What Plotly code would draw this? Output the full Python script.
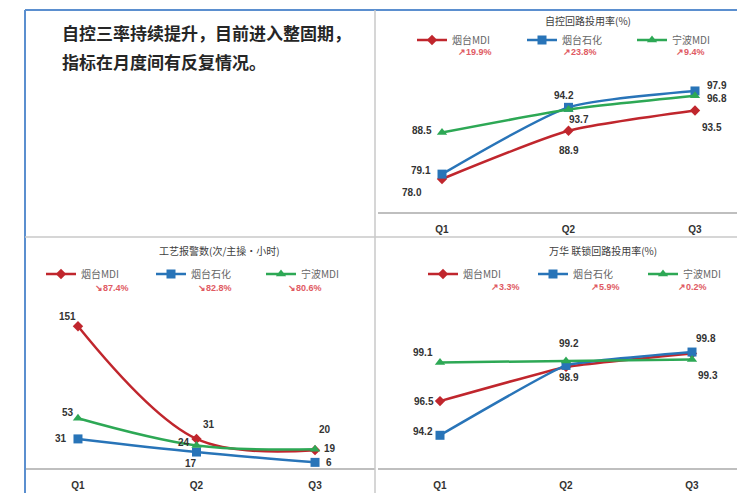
import plotly.graph_objects as go

W, H = 737, 493

quarters = ["Q1", "Q2", "Q3"]
series_names = ["烟台MDI", "烟台石化", "宁波MDI"]

# 自控回路投用率(%)
auto_ytmdi = [78.0, 88.9, 93.5]
auto_ytsh = [79.1, 94.2, 97.9]
auto_nbmdi = [88.5, 93.7, 96.8]
auto_change = ["↗19.9%", "↗23.8%", "↗9.4%"]

# 工艺报警数(次/主操•小时)
alarm_ytmdi = [151, 31, 19]
alarm_ytsh = [31, 17, 6]
alarm_nbmdi = [53, 24, 20]
alarm_change = ["↘87.4%", "↘82.8%", "↘80.6%"]

# 万华 联锁回路投用率(%)
lock_ytmdi = [96.5, 98.8, 99.7]
lock_ytsh = [94.2, 98.9, 99.8]
lock_nbmdi = [99.1, 99.2, 99.3]
lock_change = ["↗3.3%", "↗5.9%", "↗0.2%"]

titles = ["自控回路投用率(%)", "工艺报警数(次/主操•小时)", "万华 联锁回路投用率(%)"]
note_lines = ["自控三率持续提升，目前进入整固期，", "指标在月度间有反复情况。"]

COLORS = ["#C0262D", "#2874B8", "#2DA855"]
SYMBOLS = ["diamond", "square", "triangle-up"]
MSIZE = [8, 9, 9]
CJK = "Noto Sans CJK SC"
LBL = "Liberation Sans"


def px(x):
    return x / W


def py(y):
    return 1 - y / H


fig = go.Figure()

panels = [
    dict(name="1", xd=(378, 737), yd=(60, 212), xr=(-0.506, 2.332), yr=(70.54, 104.9),
         data=[auto_ytmdi, auto_ytsh, auto_nbmdi], legend="legend",
         fmt="{:.1f}", smooth=0.6,
         offs=[[(-30, 14), (0, 20), (17, 17)],
               [(-21, -4), (-5, -12), (22, -5)],
               [(-20, -2), (10, 10), (22, 3)]],
         show=[[1, 1, 1], [1, 1, 1], [1, 1, 1]]),
    dict(name="2", xd=(25, 375), yd=(300, 468), xr=(-0.447, 2.506), yr=(0, 179),
         data=[alarm_ytmdi, alarm_ytsh, alarm_nbmdi], legend="legend2",
         fmt="{:d}", smooth=1.0,
         offs=[[(-10, -10), (12, -14), (15, -2)],
               [(-17, 0), (-6, 11), (14, 0)],
               [(-10, -6), (-13, -3), (10, -20)]],
         show=[[1, 1, 1], [1, 1, 1], [1, 1, 1]]),
    dict(name="3", xd=(378, 737), yd=(300, 468), xr=(-0.492, 2.357), yr=(92.0, 103.3),
         data=[lock_ytmdi, lock_ytsh, lock_nbmdi], legend="legend3",
         fmt="{:.1f}", smooth=0.3,
         offs=[[(-16, 0), (0, 0), (0, 0)],
               [(-17, -4), (3, 12), (14, -14)],
               [(-17, -10), (3, -17), (16, 16)]],
         show=[[1, 0, 0], [1, 1, 1], [1, 1, 1]]),
]

annotations = []
layout_axes = {}
for p in panels:
    n = p["name"]
    xa = "x" if n == "1" else "x" + n
    ya = "y" if n == "1" else "y" + n
    for i in range(3):
        fig.add_trace(go.Scatter(
            x=quarters, y=p["data"][i], name=series_names[i],
            mode="lines+markers", xaxis=xa, yaxis=ya, legend=p["legend"],
            line=dict(color=COLORS[i], width=2.5, shape="spline", smoothing=p["smooth"]),
            marker=dict(symbol=SYMBOLS[i], size=MSIZE[i], color=COLORS[i]),
            showlegend=True, hoverinfo="skip"))
        for j in range(3):
            if not p["show"][i][j]:
                continue
            dx, dy = p["offs"][i][j]
            annotations.append(dict(
                x=quarters[j], y=p["data"][i][j], xref=xa, yref=ya,
                text="<b>" + p["fmt"].format(p["data"][i][j]) + "</b>",
                showarrow=False, xshift=dx, yshift=-dy,
                xanchor="center", yanchor="middle",
                font=dict(family=LBL, size=10, color="#333333")))
    axname = "xaxis" if n == "1" else "xaxis" + n
    ayname = "yaxis" if n == "1" else "yaxis" + n
    layout_axes[axname] = dict(
        domain=[px(p["xd"][0]), px(p["xd"][1])], range=list(p["xr"]),
        type="category", anchor=ya, showgrid=False, zeroline=False,
        showline=True, linecolor="#BFBFBF", linewidth=1.5,
        ticks="", ticklabelstandoff=7,
        tickfont=dict(family=LBL, size=10, color="#333333"),
        tickprefix="<b>", ticksuffix="</b>")
    layout_axes[ayname] = dict(
        domain=[py(p["yd"][1]), py(p["yd"][0])], range=list(p["yr"]),
        anchor=xa, visible=False)

fig.update_layout(**layout_axes)

legend_common = dict(orientation="h", bgcolor="rgba(0,0,0,0)",
                     font=dict(family=CJK, size=10, color="#666666"),
                     itemwidth=30, entrywidth=65, entrywidthmode="pixels",
                     yanchor="middle", xanchor="left", tracegroupgap=0,
                     itemclick=False, itemdoubleclick=False)
fig.update_layout(
    legend=dict(**legend_common, x=px(412), y=py(40)),
    legend2=dict(**legend_common, x=px(41), y=py(274)),
    legend3=dict(**legend_common, x=px(423), y=py(274)),
)

for t, (cx, cy) in zip(titles, [(588, 20), (220, 250), (603, 250)]):
    annotations.append(dict(x=px(cx), y=py(cy), xref="paper", yref="paper",
                            text=t, showarrow=False,
                            xanchor="center", yanchor="middle",
                            font=dict(family=CJK, size=10, color="#404040")))

for changes, xs, yy in [(auto_change, [475, 580, 690], 52),
                        (alarm_change, [112, 215, 305], 288),
                        (lock_change, [505, 605, 692], 287)]:
    for c, cx in zip(changes, xs):
        annotations.append(dict(x=px(cx), y=py(yy), xref="paper", yref="paper",
                                text="<b>" + c + "</b>", showarrow=False,
                                xanchor="center", yanchor="middle",
                                font=dict(family=LBL, size=9, color="#E05A63")))

for line, yy in zip(note_lines, [33, 62]):
    annotations.append(dict(x=px(60), y=py(yy), xref="paper", yref="paper",
                            text="<b>" + line + "</b>", showarrow=False,
                            xanchor="left", yanchor="middle",
                            font=dict(family=CJK, size=17, color="#262626")))

shapes = [
    dict(type="line", xref="paper", yref="paper", x0=px(25), x1=px(25), y0=py(10), y1=0,
         line=dict(color="#5B8FCF", width=2)),
    dict(type="line", xref="paper", yref="paper", x0=px(25), x1=1, y0=py(10), y1=py(10),
         line=dict(color="#5B8FCF", width=2)),
    dict(type="line", xref="paper", yref="paper", x0=px(375), x1=px(375), y0=py(10), y1=0,
         line=dict(color="#C8C8C8", width=1.5)),
    dict(type="line", xref="paper", yref="paper", x0=px(25), x1=1, y0=py(237), y1=py(237),
         line=dict(color="#C8C8C8", width=1.5)),
]

fig.update_layout(
    width=W, height=H, margin=dict(l=0, r=0, t=0, b=0, autoexpand=False),
    paper_bgcolor="white", plot_bgcolor="rgba(0,0,0,0)",
    annotations=annotations, shapes=shapes, showlegend=True,
)

fig.write_html(
    "out.html",
    config={"displayModeBar": False},
    post_script="document.body.style.margin='0';document.body.style.overflow='hidden';",
)
